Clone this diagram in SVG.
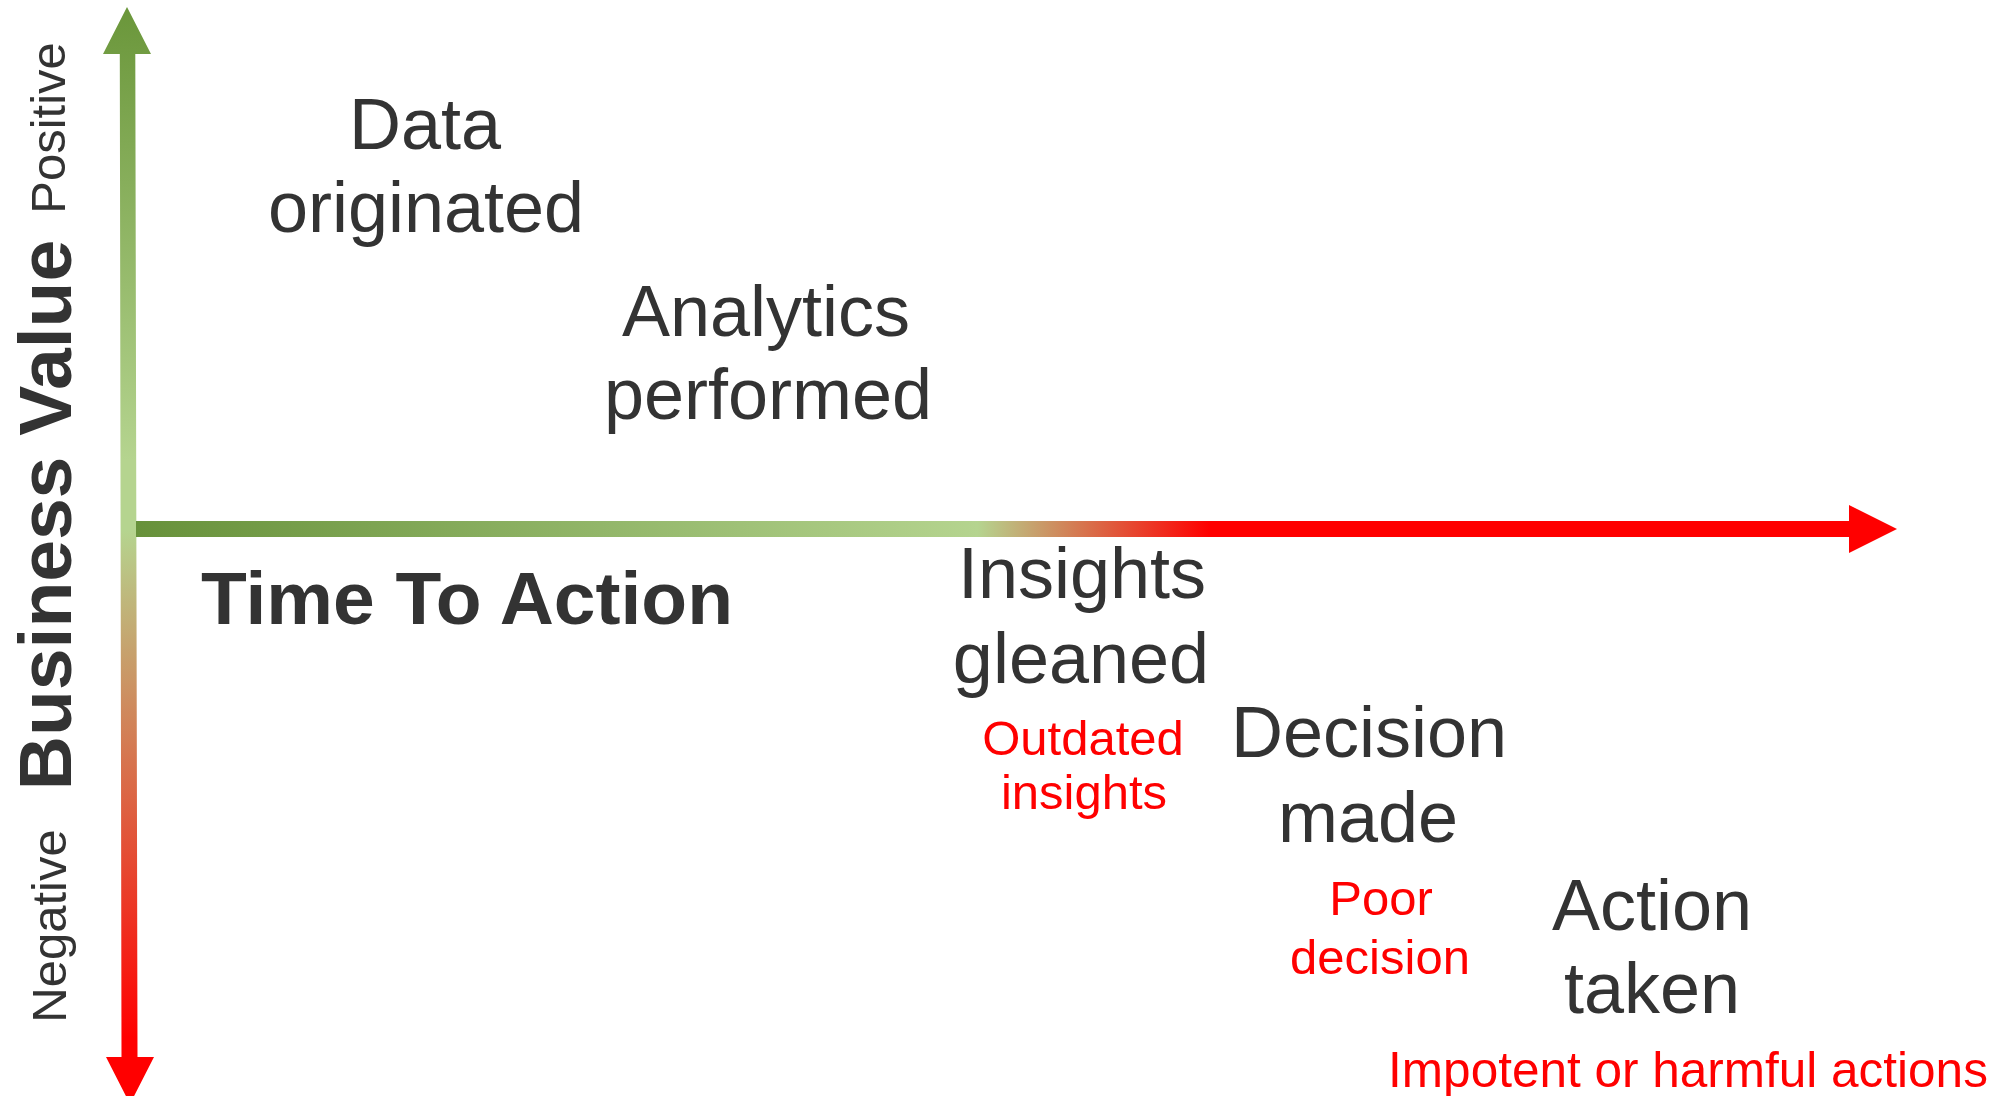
<svg xmlns="http://www.w3.org/2000/svg" width="2005" height="1096" viewBox="0 0 2005 1096">
  <style>
    text { font-family: "Liberation Sans", Arial, sans-serif; }
    .stage { font-size: 72px; fill: #333333; text-anchor: middle; }
    .risk { font-size: 49px; fill: #ff0000; text-anchor: middle; }
    .axis-title { font-size: 75px; font-weight: bold; fill: #333333; }
    .pole { font-size: 49px; fill: #333333; text-anchor: middle; }
  </style>
  <defs>
    <!-- value axis: green (positive) fading to red (negative) -->
    <linearGradient id="valueGrad" gradientUnits="userSpaceOnUse" x1="0" y1="7" x2="0" y2="1104">
      <stop offset="0" stop-color="#6a963a"/>
      <stop offset="0.413" stop-color="#b5d48f"/>
      <stop offset="0.477" stop-color="#b5d48f"/>
      <stop offset="0.94" stop-color="#ff0000"/>
      <stop offset="1" stop-color="#ff0000"/>
    </linearGradient>
    <!-- time axis: green early, red once action is late -->
    <linearGradient id="timeGrad" gradientUnits="userSpaceOnUse" x1="136" y1="0" x2="1897" y2="0">
      <stop offset="0" stop-color="#67913a"/>
      <stop offset="0.478" stop-color="#b5d48f"/>
      <stop offset="0.61" stop-color="#ff0000"/>
      <stop offset="1" stop-color="#ff0000"/>
    </linearGradient>
  </defs>

  <rect width="2005" height="1096" fill="#ffffff"/>

  <g id="axes">
    <polygon id="value-axis" fill="url(#valueGrad)"
      points="127,7 151,54 135.3,54 137.5,1057 154,1057 130,1104 106,1057 121.5,1057 119.8,54 103,54"/>
    <polygon id="time-axis" fill="url(#timeGrad)"
      points="136,521 1849,521 1849,505 1897,529 1849,553 1849,537 136,537"/>
  </g>

  <g id="axis-labels">
    <text class="axis-title" transform="translate(71,515) rotate(-90)" text-anchor="middle">Business Value</text>
    <text class="pole" transform="translate(65,128) rotate(-90)">Positive</text>
    <text class="pole" transform="translate(66,926) rotate(-90)">Negative</text>
    <text class="axis-title" x="201" y="624">Time To Action</text>
  </g>

  <g id="data-originated">
    <text class="stage" x="425" y="149">Data</text>
    <text class="stage" x="426" y="232">originated</text>
  </g>

  <g id="analytics-performed">
    <text class="stage" x="766" y="336">Analytics</text>
    <text class="stage" x="768" y="419">performed</text>
  </g>

  <g id="insights-gleaned">
    <text class="stage" x="1082" y="598">Insights</text>
    <text class="stage" x="1081" y="683">gleaned</text>
    <text class="risk" x="1083" y="755">Outdated</text>
    <text class="risk" x="1084" y="809">insights</text>
  </g>

  <g id="decision-made">
    <text class="stage" x="1369" y="757">Decision</text>
    <text class="stage" x="1368" y="842">made</text>
    <text class="risk" x="1381" y="915">Poor</text>
    <text class="risk" x="1380" y="974">decision</text>
  </g>

  <g id="action-taken">
    <text class="stage" x="1652" y="930">Action</text>
    <text class="stage" x="1652" y="1013">taken</text>
    <text class="risk" x="1688" y="1087" style="font-size:49.5px">Impotent or harmful actions</text>
  </g>
</svg>
